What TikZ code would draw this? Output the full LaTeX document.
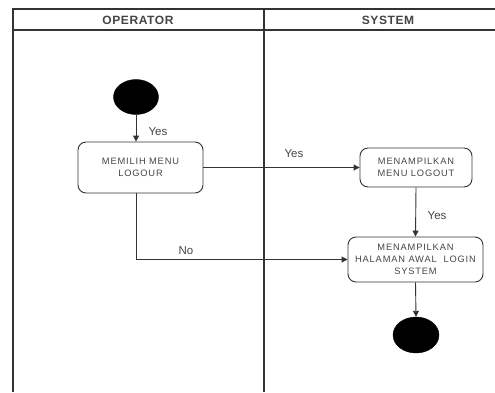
\documentclass[tikz,border=0pt]{standalone}
\usepackage{fontspec}
\setmainfont{Liberation Sans}
\usetikzlibrary{arrows.meta,shapes.geometric,calc}
\definecolor{ln}{HTML}{333333}
\definecolor{tx}{HTML}{444444}
\tikzset{
  lane/.style={draw=ln, line width=1.3pt},
  act/.style={draw=ln, line width=0.9pt, rounded corners=8pt, align=center, text=tx,
    font=\fontsize{9.3}{12.3}\selectfont\addfontfeature{LetterSpace=9}, inner sep=0pt},
  blob/.style={ellipse, fill=black, draw=black, inner sep=0pt},
  flow/.style={draw=ln, line width=0.9pt, -{Triangle[length=6pt,width=6pt]}},
  lbl/.style={text=tx, font=\fontsize{11.5}{13}\selectfont, inner sep=0pt},
  hdr/.style={text=tx, font=\bfseries\fontsize{12}{13}\selectfont\addfontfeature{LetterSpace=5}, inner sep=0pt}
}
\begin{document}
\begin{tikzpicture}[x=1pt,y=-1pt]
\useasboundingbox (0,0) rectangle (495,392);
% swimlane frame
\coordinate (tl) at (13,9);
\coordinate (tr) at (495,9);
\coordinate (hl) at (13,30);
\coordinate (hr) at (495,30);
\coordinate (bl) at (13,392);
\coordinate (mt) at (264,9);
\coordinate (mb) at (264,392);
\draw[lane] (tr) -- (tl) -- (bl);
\draw[lane] (hl) -- (hr);
\draw[lane] (mt) -- (mb);
\node[hdr] (hop) at (138,20) {OPERATOR};
\node[hdr] (hsys) at (388,20) {SYSTEM};
% nodes
\node[blob, minimum width=45pt, minimum height=35pt] (start) at (136,97) {};
\node[act, minimum width=125pt, minimum height=51pt] (box1) at (140.5,167.5) {MEMILIH MENU\\LOGOUR};
\node[act, minimum width=112pt, minimum height=39pt] (box2) at (416,167.5) {MENAMPILKAN\\MENU LOGOUT};
\node[act, minimum width=135pt, minimum height=45pt] (box3) at (415.5,259.5) {MENAMPILKAN\\HALAMAN AWAL\ \ LOGIN\\SYSTEM};
\node[blob, minimum width=46pt, minimum height=36pt] (end) at (416,335) {};
% flows
\draw[flow] (start.south) -- (start.south |- box1.north);
\node[lbl] (y1) at (158,132) {Yes};
\draw[flow] (box1.east) -- (box2.west);
\node[lbl] (y2) at (294,154) {Yes};
\draw[flow] (box2.south) -- (box3.north);
\node[lbl] (y3) at (437,216) {Yes};
\coordinate (nb) at (start.south |- box1.south);
\coordinate (nc) at (start.south |- box3.west);
\draw[flow] (nb) -- (nc) -- (box3.west);
\node[lbl] (no) at (186,251) {No};
\draw[flow] (box3.south) -- (end.north);
\end{tikzpicture}
\end{document}
